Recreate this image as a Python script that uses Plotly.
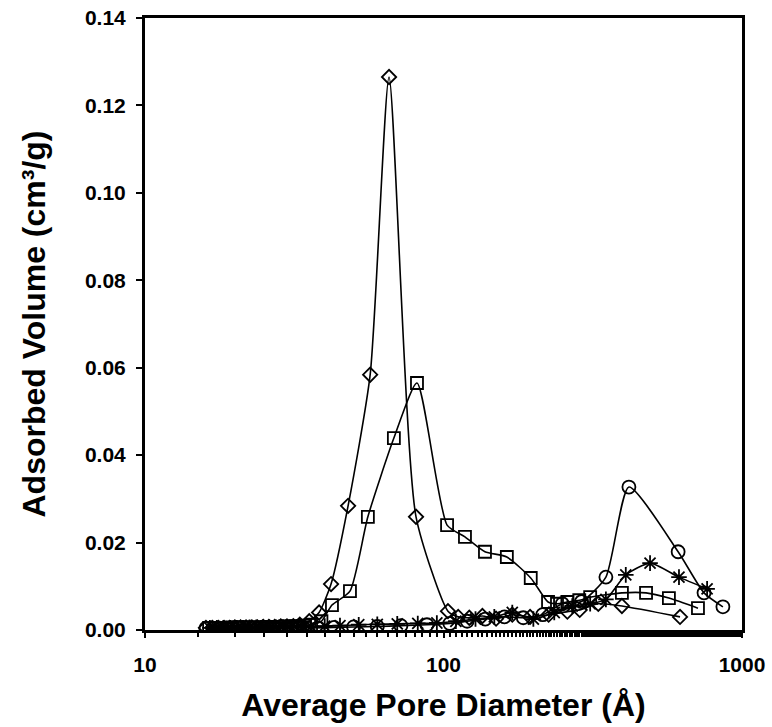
import plotly.graph_objects as go

# Series: diamonds
d_x = [16, 16.8, 17.6, 18.4, 19.2, 20, 20.9, 21.8, 22.8, 23.8, 24.9, 26, 27.2, 28.5, 29.9, 31.4,
       33, 35.5, 38.3, 42, 47.9, 56.8, 65.7, 80.9,
       103.5, 112, 122, 135, 150, 170, 195, 225, 260, 286, 330, 396, 620]
d_y = [0.0005, 0.0005, 0.0005, 0.0005, 0.0005, 0.0006, 0.0006, 0.0006, 0.0006, 0.0006, 0.0007, 0.0007,
       0.0007, 0.0008, 0.0008, 0.0009, 0.0012, 0.002,
       0.004, 0.0105, 0.0284, 0.0584, 0.1265, 0.0259, 0.0043, 0.003, 0.0028, 0.0032, 0.0026, 0.0035,
       0.003, 0.0035, 0.0042, 0.0046, 0.006, 0.0055, 0.003]

# Series: squares
s_x = [16.4, 17.2, 18, 18.8, 19.6, 20.5, 21.4, 22.3, 23.3, 24.4, 25.5, 26.7, 28, 29.4, 30.9, 32.5,
       34.2, 36, 39, 42.3, 48.6, 55.8, 68.2, 81.5, 102.8, 118, 137.7,
       163, 196, 224, 240, 260, 285, 310, 396, 477, 569, 712]
s_y = [0.0005, 0.0005, 0.0005, 0.0005, 0.0006, 0.0006, 0.0006, 0.0006, 0.0006, 0.0006, 0.0007, 0.0007,
       0.0007, 0.0008, 0.0008, 0.0009, 0.001, 0.0012, 0.002, 0.0057, 0.0089,
       0.0259, 0.0439, 0.0565, 0.024, 0.0213, 0.0179, 0.0167, 0.0119, 0.0064, 0.006, 0.0064, 0.0068,
       0.0075, 0.0085, 0.0085, 0.0073, 0.005]

# Series: circles
c_x = [16, 16.9, 17.8, 18.7, 19.7, 20.7, 21.8, 22.9, 24, 25.2, 26.5, 28, 29.5, 31, 33, 35, 38,
       43, 50, 60, 72, 88, 105, 120, 138, 160, 185, 215,
       250, 290, 350, 418, 611, 746, 863]
c_y = [0.0004, 0.0004, 0.0004, 0.0004, 0.0004, 0.0004, 0.0004, 0.0004, 0.0004, 0.0004, 0.0004, 0.0004,
       0.0004, 0.0005, 0.0005, 0.0005, 0.0005, 0.0006, 0.0007,
       0.0008, 0.001, 0.0012, 0.0015, 0.002, 0.0025, 0.003, 0.0028, 0.0035, 0.006, 0.0065, 0.0121,
       0.0327, 0.0179, 0.0085, 0.0053]

# Series: asterisks
a_x = [16.5, 17.4, 18.3, 19.3, 20.3, 21.3, 22.4, 23.6, 24.8, 26.1, 27.5, 29, 30.6, 32.3, 34, 36,
       40, 45, 52, 60, 70, 82, 95, 110, 128, 148, 170, 200,
       235, 270, 310, 350, 408, 492, 615, 764]
a_y = [0.0005, 0.0005, 0.0005, 0.0005, 0.0005, 0.0005, 0.0006, 0.0006, 0.0006, 0.0006, 0.0006, 0.0007,
       0.0007, 0.0007, 0.0008, 0.0008, 0.0009, 0.001, 0.0012,
       0.0013, 0.0014, 0.0015, 0.0016, 0.002, 0.0025, 0.003, 0.004, 0.0025, 0.004, 0.0055, 0.006,
       0.007, 0.0126, 0.0153, 0.0121, 0.0094]

x_ticks = [10, 100, 1000]
y_ticks = [0, 0.02, 0.04, 0.06, 0.08, 0.10, 0.12, 0.14]

fig = go.Figure()
series = [
    (d_x, d_y, "diamond-open", 11),
    (s_x, s_y, "square-open", 12),
    (c_x, c_y, "circle-open", 13),
    (a_x, a_y, "asterisk-open", 13),
]
for xs, ys, sym, sz in series:
    fig.add_trace(go.Scatter(
        x=xs, y=ys, mode="lines+markers",
        line=dict(color="black", width=1.6, shape="spline", smoothing=0.6),
        marker=dict(symbol=sym, size=sz, color="black", line=dict(color="black", width=1.8)),
        showlegend=False,
    ))

font_family = "Liberation Sans, Arial, sans-serif"
fig.update_layout(
    width=772, height=727,
    margin=dict(l=145, r=30, t=18, b=97),
    paper_bgcolor="white", plot_bgcolor="white",
    font=dict(family=font_family, color="black"),
)
fig.update_xaxes(
    type="log", range=[1, 3],
    tickvals=x_ticks, ticktext=[str(v) for v in x_ticks],
    tickfont=dict(size=21, weight="bold"),
    showline=True, linecolor="black", linewidth=3, mirror=True,
    ticks="outside", ticklen=5, tickwidth=2, tickcolor="black",
    minor=dict(ticks="outside", ticklen=4, tickwidth=2, tickcolor="black", showgrid=False),
    showgrid=False, zeroline=False, automargin=False,
    ticklabelstandoff=9,
    title=dict(text="Average Pore Diameter (Å)", font=dict(size=32, weight="bold"), standoff=19),
)
fig.update_yaxes(
    range=[0, 0.14],
    tickvals=y_ticks, ticktext=[f"{v:.2f}" for v in y_ticks],
    tickfont=dict(size=21, weight="bold"),
    showline=True, linecolor="black", linewidth=3, mirror=True,
    ticks="outside", ticklen=6, tickwidth=2, tickcolor="black",
    showgrid=False, zeroline=False, automargin=False,
    ticklabelstandoff=6,
    title=dict(text="Adsorbed Volume (cm³/g)", font=dict(size=32, weight="bold"), standoff=30),
)

fig.write_html("out.html")
